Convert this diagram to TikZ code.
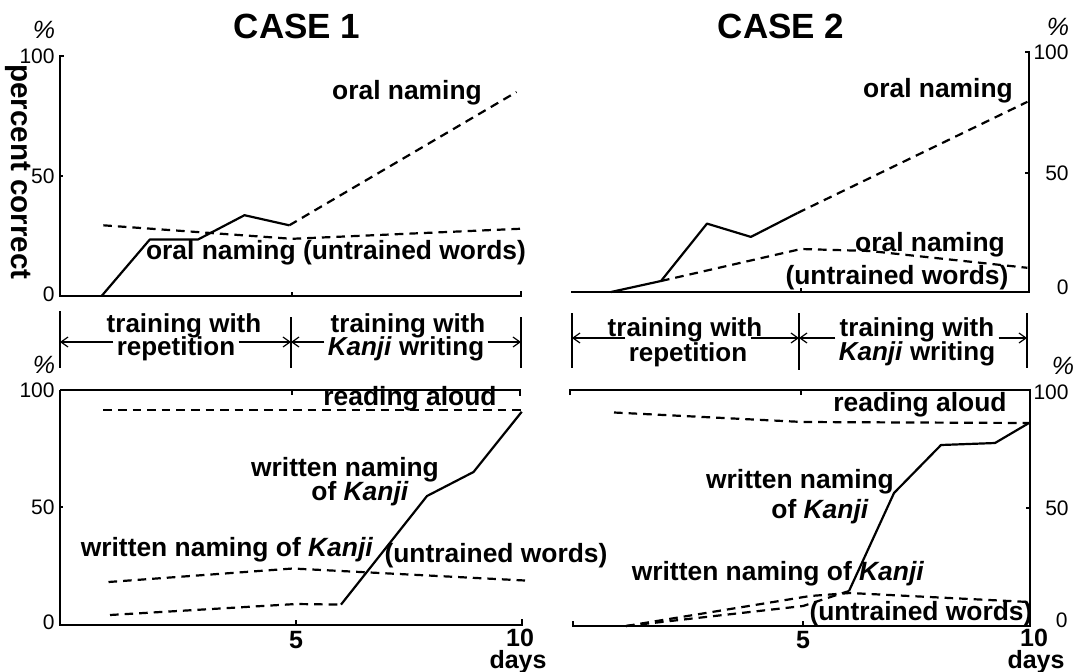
\documentclass[tikz,border=0pt]{standalone}
\usepackage{fontspec}
\setmainfont{Liberation Sans}
\usetikzlibrary{arrows.meta}
\begin{document}
\begin{tikzpicture}[x=0.5pt,y=-0.5pt,
  lbl/.style={font=\fontsize{13.2}{15}\selectfont\bfseries, inner sep=0pt},
  bandtxt/.style={font=\fontsize{13}{15}\selectfont\bfseries, inner xsep=1.5pt, inner ysep=0pt, anchor=base},
  ticklbl/.style={font=\fontsize{10.5}{12}\selectfont, inner sep=0pt},
  pctlbl/.style={font=\fontsize{12.5}{14}\selectfont\itshape, inner sep=0pt},
  daylbl/.style={font=\fontsize{12.5}{14}\selectfont\bfseries, inner sep=0pt},
  title/.style={font=\fontsize{17.5}{20}\selectfont\bfseries, inner sep=0pt},
  axisline/.style={line width=0.9pt},
  curve/.style={line width=1.1pt, line join=round},
  dcurve/.style={line width=1.1pt, dash pattern=on 4.3pt off 3pt},
  barline/.style={line width=0.8pt},
  barrow/.style={line width=0.6pt, -{Straight Barb[length=3.5pt,width=5pt]}},
]
\useasboundingbox (0,0) rectangle (1082,671);

% ---------- titles ----------
\node[title] (case1) at (297,26) {CASE 1};
\node[title] (case2) at (781,26) {CASE 2};

% ---------- top-left panel ----------
\node[pctlbl] (pTL) at (44,30) {\%};
\node[ticklbl,anchor=east] (tl100) at (55,56) {100};
\node[ticklbl,anchor=east] (tl50) at (55,176) {50};
\node[ticklbl,anchor=east] (tl0) at (55,294) {0};
\node[font=\fontsize{14.8}{16}\selectfont\bfseries, inner sep=0pt, rotate=-90] (ylab) at (18,172) {percent correct};
\draw[axisline] (64,56) -- (60,56) -- (60,296) -- (521,296) -- (521,291);
\draw[axisline] (60,176) -- (63,176);
\draw[axisline] (292,296) -- (292,292);
\draw[curve] (101.6,296) -- (149.8,239.5) -- (198,239.5) -- (244.5,215.2) -- (289.3,225.3);
\draw[dcurve] (289.3,225.3) -- (516.5,92);
\draw[dcurve] (103.3,225.3) -- (206.6,232.7) -- (292,238.8) -- (521.7,228.7);
\node[lbl] (onTL) at (407,93) {oral naming};
\node[lbl] (onuTL) at (336,253) {oral naming (untrained words)};

% ---------- top-right panel ----------
\node[pctlbl] (pTR) at (1058,27) {\%};
\node[ticklbl,anchor=east] (tr100) at (1069,52) {100};
\node[ticklbl,anchor=east] (tr50) at (1069,173) {50};
\node[ticklbl,anchor=east] (tr0) at (1069,287) {0};
\draw[axisline] (571,292) -- (1029,292) -- (1029,52) -- (1025,52);
\draw[axisline] (1029,173) -- (1025,173);
\draw[axisline] (801,292) -- (801,288);
\draw[curve] (610.9,292) -- (661,281) -- (707,223.6) -- (750.9,236.9) -- (797.5,213);
\draw[dcurve] (797.5,213) -- (1027.4,101.8);
\draw[dcurve] (661,281) -- (801,249) -- (870,251) -- (1027.4,267.8);
\node[lbl] (onTR) at (938,91) {oral naming};
\node[lbl] (onuTR) at (930,245) {oral naming};
\node[lbl] (uwTR) at (897,278) {(untrained words)};

% ---------- middle band, case 1 ----------
\draw[barline] (60,311) -- (60,368);
\draw[barline] (291,317) -- (291,368);
\draw[barline] (521,317) -- (521,368);
\coordinate (bA1) at (60,342);
\coordinate (bB1) at (291,342);
\coordinate (bC1) at (521,342);
\node[bandtxt] (tw1) at (184,332) {training with};
\node[bandtxt] (rep1) at (176,355) {repetition};
\node[bandtxt] (tw2) at (408,332) {training with};
\node[bandtxt] (kw2) at (406,355) {\textit{Kanji} writing};
\draw[barrow] (rep1.west |- bA1) -- (bA1);
\draw[barrow] (rep1.east |- bB1) -- (bB1);
\draw[barrow] (kw2.west |- bB1) -- (bB1);
\draw[barrow] (kw2.east |- bC1) -- (bC1);

% ---------- middle band, case 2 ----------
\draw[barline] (572,313) -- (572,368);
\draw[barline] (799,313) -- (799,370);
\draw[barline] (1027,313) -- (1027,368);
\coordinate (bA2) at (572,338);
\coordinate (bB2) at (799,338);
\coordinate (bC2) at (1027,338);
\node[bandtxt] (tw3) at (685,336) {training with};
\node[bandtxt] (rep3) at (688,361) {repetition};
\node[bandtxt] (tw4) at (917,336) {training with};
\node[bandtxt] (kw4) at (917,360) {\textit{Kanji} writing};
\draw[barrow] (rep3.west |- bA2) -- (bA2);
\draw[barrow] (rep3.east |- bB2) -- (bB2);
\draw[barrow] (kw4.west |- bB2) -- (bB2);
\draw[barrow] (kw4.east |- bC2) -- (bC2);

% ---------- bottom-left panel ----------
\node[pctlbl] (pBL) at (44,365) {\%};
\node[ticklbl,anchor=east] (bl100) at (55,390) {100};
\node[ticklbl,anchor=east] (bl50) at (55,507) {50};
\node[ticklbl,anchor=east] (bl0) at (55,622) {0};
\draw[axisline] (60,390) -- (520,390) -- (520,396);
\draw[axisline] (292,390) -- (292,395);
\draw[axisline] (60,390) -- (60,625) -- (522,625) -- (522,619);
\draw[axisline] (60,507) -- (63,507);
\draw[axisline] (296,625) -- (296,620);
\draw[dcurve] (103.3,410) -- (521.7,410);
\draw[curve] (341,604.6) -- (427,496) -- (473.5,472) -- (521.7,411.8);
\draw[dcurve] (110,615) -- (296,604) -- (341,604.6);
\draw[dcurve] (108.5,582) -- (292.7,568.5) -- (525,580.5);
\node[lbl] (raBL) at (410,399) {reading aloud};
\node[lbl] (wnBL) at (345,470) {written naming};
\node[lbl] (okBL) at (360,494) {of \textit{Kanji}};
\node[lbl] (wnuBL) at (227,550) {written naming of \textit{Kanji}};
\node[lbl] (uwBL) at (496,556) {(untrained words)};
\node[daylbl] (d5L) at (296,640) {5};
\node[daylbl] (d10L) at (520,638) {10};
\node[daylbl] (daysL) at (518,662) {days};

% ---------- bottom-right panel ----------
\node[pctlbl] (pBR) at (1063,366) {\%};
\node[ticklbl,anchor=east] (br100) at (1069,392) {100};
\node[ticklbl,anchor=east] (br50) at (1069,508) {50};
\node[ticklbl,anchor=east] (br0) at (1068,620) {0};
\draw[axisline] (570,395) -- (570,390) -- (1030,390) -- (1030,626) -- (573,626) -- (573,621);
\draw[axisline] (801,390) -- (801,395);
\draw[axisline] (803,626) -- (803,621);
\draw[axisline] (1030,508) -- (1026,508);
\draw[dcurve] (614,412.5) -- (803,422) -- (1029,423);
\draw[curve] (849,591) -- (894,493) -- (941,445) -- (995,443) -- (1029,423);
\draw[dcurve] (626,626) -- (803,606) -- (849,591);
\draw[dcurve] (626,626) -- (810,596) -- (850,593) -- (1029,602);
\node[lbl] (raBR) at (920,405) {reading aloud};
\node[lbl] (wnBR) at (800,482) {written naming};
\node[lbl] (okBR) at (820,512) {of \textit{Kanji}};
\node[lbl] (wnuBR) at (778,574) {written naming of \textit{Kanji}};
\node[lbl] (uwBR) at (921,614) {(untrained words)};
\node[daylbl] (d5R) at (803,640) {5};
\node[daylbl] (d10R) at (1034,638) {10};
\node[daylbl] (daysR) at (1036,662) {days};
\end{tikzpicture}
\end{document}
